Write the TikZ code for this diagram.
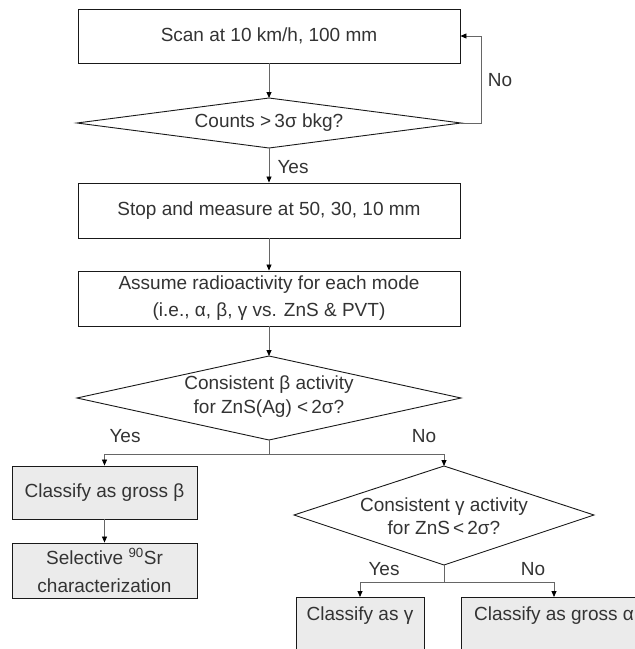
\documentclass[tikz,border=0pt]{standalone}
\usepackage{fontspec}
\setmainfont{Liberation Sans}
\usetikzlibrary{arrows.meta}
\definecolor{txt}{HTML}{333333}
\definecolor{boxfill}{HTML}{EBEBEB}
\definecolor{conn}{HTML}{666666}
\begin{document}
\begin{tikzpicture}[x=1pt,y=-1pt,
  every node/.style={font=\fontsize{19}{25}\selectfont, text=txt},
  procbox/.style={draw=black!90, line width=0.9pt, rectangle, inner sep=0pt, align=center},
  greybox/.style={procbox, fill=boxfill},
  decision/.style={draw=black!90, line width=0.9pt},
  conline/.style={draw=conn, line width=0.8pt},
  arr/.style={conline, -{Triangle[length=6pt,width=5pt,color=black]}},
  lbl/.style={inner sep=0pt}
]
\useasboundingbox (0,0) rectangle (635,649);
\clip (0,0) rectangle (635,649);

% boxes
\node[procbox, minimum width=382pt, minimum height=54pt] (b1) at (269,36) {Scan at 10 km/h, 100 mm};
\node[procbox, minimum width=382pt, minimum height=55pt] (b2) at (269,210.5) {Stop and measure at 50, 30, 10 mm};
\node[procbox, minimum width=382pt, minimum height=55pt, font=\fontsize{19}{27}\selectfont] (b3) at (269,298.5) {Assume radioactivity for each mode\\(i.e., α, β, γ vs. ZnS \& PVT)};
\node[greybox, minimum width=185pt, minimum height=53pt] (b4) at (104.5,492.5) {Classify as gross β};
\node[greybox, minimum width=185pt, minimum height=55pt, font=\fontsize{19}{28}\selectfont] (b5) at (104.5,570.5) {Selective \textsuperscript{90}Sr\\characterization};
\node[greybox, minimum width=128pt, text height=13pt, text depth=45pt, inner ysep=10pt, anchor=north] (b6) at (360,597) {Classify as γ};
\node[greybox, minimum width=186pt, text height=13pt, text depth=45pt, inner ysep=10pt, anchor=north] (b7) at (554,597) {Classify as gross α};

% decision 1
\coordinate (d1t) at (269,98);
\coordinate (d1b) at (269,148);
\coordinate (d1l) at (77,123);
\coordinate (d1r) at (461,123);
\draw[decision] (d1t) -- (d1r) -- (d1b) -- (d1l) -- cycle;
\node[lbl] (d1) at (269,123) {Counts >\,3σ bkg?};

% decision 2
\coordinate (d2t) at (269,356);
\coordinate (d2b) at (269,440);
\coordinate (d2l) at (77,398);
\coordinate (d2r) at (461,398);
\draw[decision] (d2t) -- (d2r) -- (d2b) -- (d2l) -- cycle;
\node[lbl, align=center, font=\fontsize{19}{24}\selectfont] (d2) at (269,397) {Consistent β activity\\for ZnS(Ag) <\,2σ?};

% decision 3
\coordinate (d3t) at (444,466);
\coordinate (d3b) at (444,565);
\coordinate (d3l) at (294,515);
\coordinate (d3r) at (594,515);
\draw[decision] (d3t) -- (d3r) -- (d3b) -- (d3l) -- cycle;
\node[lbl, align=center, font=\fontsize{19}{23}\selectfont] (d3) at (444,516) {Consistent γ activity\\for ZnS\,<\,2σ?};

% connectors
\draw[arr] (b1.south) -- (d1t);
\coordinate (loopb) at (481,123);
\coordinate (loopt) at (481,36);
\draw[arr] (d1r) -- (loopb) -- (loopt) -- (b1.east);
\node[lbl] (no1) at (500,80) {No};
\draw[arr] (d1b) -- (b2.north);
\node[lbl] (yes1) at (293,167) {Yes};
\draw[arr] (b2.south) -- (b3.north);
\draw[arr] (b3.south) -- (d2t);

\coordinate (j2) at (269,454);
\coordinate (j2l) at (104.5,454);
\coordinate (j2r) at (444,454);
\draw[conline] (d2b) -- (j2);
\draw[arr] (j2) -- (j2l) -- (b4.north);
\draw[arr] (j2) -- (j2r) -- (d3t);
\node[lbl] (yes2) at (125,436) {Yes};
\node[lbl] (no2) at (424,436) {No};

\draw[arr] (b4.south) -- (b5.north);

\coordinate (j3) at (444,582);
\coordinate (j3l) at (360,582);
\coordinate (j3r) at (554,582);
\draw[conline] (d3b) -- (j3);
\draw[arr] (j3) -- (j3l) -- (b6.north);
\draw[arr] (j3) -- (j3r) -- (b7.north);
\node[lbl] (yes3) at (384,569) {Yes};
\node[lbl] (no3) at (533,569) {No};
\end{tikzpicture}
\end{document}
